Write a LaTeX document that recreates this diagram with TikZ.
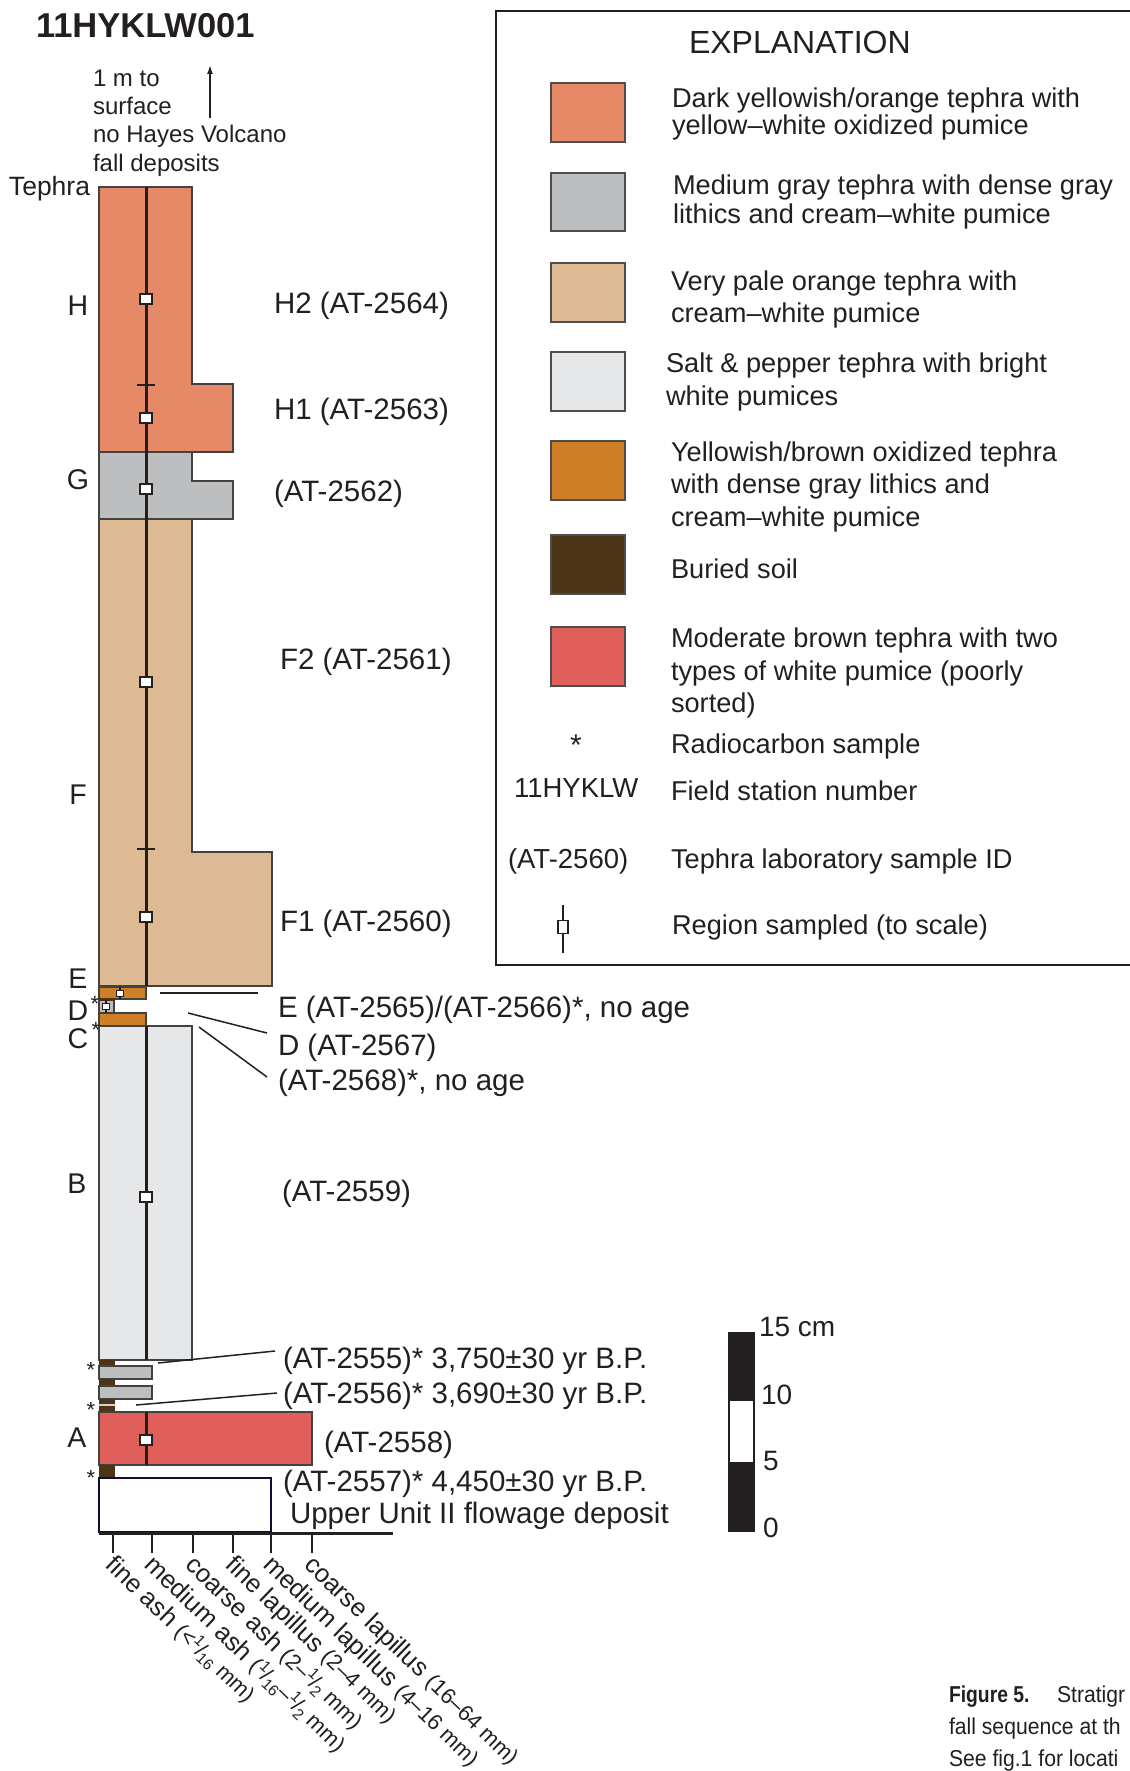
\documentclass[tikz,border=0pt]{standalone}
\usepackage{fontspec}
\setmainfont{Liberation Sans}
\usetikzlibrary{arrows.meta}
\definecolor{cH}{HTML}{E68966}
\definecolor{cG}{HTML}{BCBEC0}
\definecolor{cF}{HTML}{DEBA94}
\definecolor{cB}{HTML}{E6E7E8}
\definecolor{cE}{HTML}{CF8027}
\definecolor{cS}{HTML}{4D3416}
\definecolor{cA}{HTML}{E05F5A}
\definecolor{ink}{HTML}{231F20}
\newcommand\fs[1]{\fontsize{#1}{#1}\selectfont}
\newcommand\myfr[2]{\raisebox{0.36em}{\fs{15.5}#1}\kern-0.5pt/\kern-0.5pt\raisebox{-0.18em}{\fs{15.5}#2}}
\begin{document}
\begin{tikzpicture}[x=1pt,y=-1pt,
  every node/.style={inner sep=0pt, outer sep=0pt, text=ink},
  strat/.style={draw=ink!85, line width=1.2},
  samp/.style={draw=ink, fill=white, line width=1.4, minimum width=12, minimum height=10},
  smsamp/.style={draw=ink, fill=white, line width=1, minimum width=7, minimum height=6},
  lab/.style={anchor=base west, font=\fs{29.5}},
  lett/.style={anchor=base, font=\fs{28.5}},
  astk/.style={anchor=base, font=\fs{22}},
  legt/.style={anchor=base west, font=\fs{27.2}},
  sw/.style={draw=ink!80, line width=1.2},
  lead/.style={draw=ink, line width=1.5},
  axl/.style={rotate=-44, anchor=north west, font=\fs{25.5}},
  note/.style={anchor=base west, font=\fs{24}},
  scl/.style={anchor=base west, font=\fs{28}},
]
\useasboundingbox (0,0) rectangle (1129,1771);

% ---------- title and note ----------
\node[anchor=base west, font=\bfseries\fs{34.5}] (title) at (36,38) {11HYKLW001};
\node[note] (n1) at (93,87) {1 m to};
\node[note] (n2) at (93,115) {surface};
\node[note] (n3) at (93,143) {no Hayes Volcano};
\node[note] (n4) at (93,172) {fall deposits};
\coordinate (arB) at (210,118);
\coordinate (arT) at (210,65);
\draw[ink, line width=1.5, -{Latex[length=9,width=6]}] (arB) -- (arT);
\node[anchor=base west, font=\fs{26.5}] (tephra) at (9,196) {Tephra};

% ---------- column ----------
\path[strat, fill=cH] (99,187) -- (192,187) -- (192,384) -- (233,384) -- (233,452) -- (99,452) -- cycle;
\path[strat, fill=cG] (99,452) -- (192,452) -- (192,481) -- (233,481) -- (233,519) -- (99,519) -- cycle;
\path[strat, fill=cF] (99,519) -- (192,519) -- (192,852) -- (272,852) -- (272,986) -- (99,986) -- cycle;
\path[strat, fill=cE] (99,987) rectangle (146,999);
\path[strat, fill=cG] (99,1000) rectangle (114,1013);
\fill[cS] (99,998) rectangle (115,1001);
\path[strat, fill=cE] (99,1013) rectangle (146,1026);
\fill[cS] (99,1024.5) rectangle (115,1027.5);
\path[strat, fill=cB] (99,1026) rectangle (192,1360);
\fill[cS] (99,1360) rectangle (115,1366);
\path[strat, fill=cG] (99,1366) rectangle (152,1379);
\fill[cS] (99,1379) rectangle (115,1386);
\path[strat, fill=cG] (99,1386) rectangle (152,1399);
\fill[cS] (99,1399) rectangle (115,1412);
\fill[cG!70] (99,1403.5) rectangle (115,1406);
\path[strat, fill=cA] (99,1412) rectangle (312,1465);
\fill[cS] (99,1465) rectangle (115,1478);
\path[draw=ink!70!blue!60!black, line width=1.2, fill=white] (99,1478) rectangle (271,1532);

% sample lines
\draw[ink, line width=3] (146,187) -- (146,986);
\draw[ink, line width=3] (146,1026) -- (146,1360);
\draw[ink, line width=3] (146,1412) -- (146,1465);
\draw[ink, line width=2.5] (137,385) -- (155,385);
\draw[ink, line width=2.5] (137,849) -- (155,849);
\node[samp] (sH2) at (146,299) {};
\node[samp] (sH1) at (146,418) {};
\node[samp] (sG) at (146,489) {};
\node[samp] (sF2) at (146,682) {};
\node[samp] (sF1) at (146,917) {};
\node[samp] (sB) at (146,1197) {};
\node[samp] (sA) at (146,1440) {};
\draw[ink, line width=1.2] (120,987) -- (120,999);
\node[smsamp] (sE) at (120,993) {};
\draw[ink, line width=1.2] (106,1000) -- (106,1013);
\node[smsamp] (sD) at (106,1006.5) {};

% axis
\draw[ink, line width=3] (99,1533) -- (393,1533);
\foreach \x in {113,152,193,233,271,312} \draw[ink, line width=2.5] (\x,1533) -- (\x,1553);
\node[axl] (x1) at (117,1553) {fine ash {\fs{22}(<\myfr{1}{16} mm)}};
\node[axl] (x2) at (156,1553) {medium ash {\fs{22}(\myfr{1}{16}–\myfr{1}{2} mm)}};
\node[axl] (x3) at (197,1553) {coarse ash {\fs{22}(2–\myfr{1}{2} mm)}};
\node[axl] (x4) at (237,1553) {fine lapillus {\fs{22}(2–4 mm)}};
\node[axl] (x5) at (275,1553) {medium lapillus {\fs{22}(4–16 mm)}};
\node[axl] (x6) at (316,1553) {coarse lapillus {\fs{22}(16–64 mm)}};

% left letters
\node[lett] (lH) at (78,315) {H};
\node[lett] (lG) at (78,489) {G};
\node[lett] (lF) at (78,804) {F};
\node[lett] (lE) at (78,988) {E};
\node[lett] (lD) at (78,1020) {D};
\node[lett] (lC) at (78,1048) {C};
\node[lett] (lB) at (77,1193) {B};
\node[lett] (lA) at (77,1447) {A};
\node[astk] (a1) at (95,1011) {*};
\node[astk] (a2) at (96,1037) {*};
\node[astk] (a3) at (91,1377) {*};
\node[astk] (a4) at (91,1417) {*};
\node[astk] (a5) at (91,1485) {*};

% right labels
\node[lab] (tH2) at (274,313) {H2 (AT-2564)};
\node[lab] (tH1) at (274,419) {H1 (AT-2563)};
\node[lab] (tG) at (274,501) {(AT-2562)};
\node[lab] (tF2) at (280,669) {F2 (AT-2561)};
\node[lab] (tF1) at (280,931) {F1 (AT-2560)};
\node[lab] (tE) at (278,1017) {E (AT-2565)/(AT-2566)*, no age};
\node[lab] (tD) at (278,1055) {D (AT-2567)};
\node[lab] (tC) at (278,1090) {(AT-2568)*, no age};
\node[lab] (tB) at (282,1201) {(AT-2559)};
\node[lab] (t55) at (283,1368) {(AT-2555)* 3,750±30 yr B.P.};
\node[lab] (t56) at (283,1403) {(AT-2556)* 3,690±30 yr B.P.};
\node[lab] (t58) at (324,1452) {(AT-2558)};
\node[lab] (t57) at (283,1491) {(AT-2557)* 4,450±30 yr B.P.};
\node[lab] (tU) at (290,1523) {Upper Unit II flowage deposit};

% leaders
\coordinate (eA) at (160,993);  \coordinate (eB) at (258,993);
\coordinate (dA) at (188,1013); \coordinate (dB) at (267,1033);
\coordinate (cA) at (199,1027); \coordinate (cB) at (267,1077);
\coordinate (pA) at (158,1363); \coordinate (pB) at (275,1351);
\coordinate (qA) at (136,1405); \coordinate (qB) at (277,1393);
\draw[lead] (eA) -- (eB);
\draw[lead] (dA) -- (dB);
\draw[lead] (cA) -- (cB);
\draw[lead] (pA) -- (pB);
\draw[lead] (qA) -- (qB);

% scale bar
\fill[ink] (728,1332) rectangle (755,1400);
\draw[ink, line width=1.5, fill=white] (729,1400) rectangle (754,1463);
\fill[ink] (728,1463) rectangle (755,1532);
\node[scl] (s15) at (759,1336) {15 cm};
\node[scl] (s10) at (761,1404) {10};
\node[scl] (s5) at (763,1470) {5};
\node[scl] (s0) at (763,1537) {0};

% legend
\draw[ink, line width=2.5] (1131,11) -- (496,11) -- (496,965) -- (1131,965);
\node[anchor=base west, font=\fs{32}] (expl) at (689,54) {EXPLANATION};
\path[sw, fill=cH] (551,83) rectangle (625,142);
\path[sw, fill=cG] (551,173) rectangle (625,231);
\path[sw, fill=cF] (551,263) rectangle (625,322);
\path[sw, fill=cB] (551,352) rectangle (625,411);
\path[sw, fill=cE] (551,441) rectangle (625,500);
\path[sw, fill=cS] (551,535) rectangle (625,594);
\path[sw, fill=cA] (551,627) rectangle (625,686);
\node[legt] (g1a) at (672,108) {Dark yellowish/orange tephra with};
\node[legt] (g1b) at (672,135) {yellow–white oxidized pumice};
\node[legt] (g2a) at (673,195) {Medium gray tephra with dense gray};
\node[legt] (g2b) at (673,224) {lithics and cream–white pumice};
\node[legt] (g3a) at (671,290) {Very pale orange tephra with};
\node[legt] (g3b) at (671,322) {cream–white pumice};
\node[legt] (g4a) at (666,372) {Salt \& pepper tephra with bright};
\node[legt] (g4b) at (666,405) {white pumices};
\node[legt] (g5a) at (671,461) {Yellowish/brown oxidized tephra};
\node[legt] (g5b) at (671,493) {with dense gray lithics and};
\node[legt] (g5c) at (671,526) {cream–white pumice};
\node[legt] (g6) at (671,578) {Buried soil};
\node[legt] (g7a) at (671,647) {Moderate brown tephra with two};
\node[legt] (g7b) at (671,680) {types of white pumice (poorly};
\node[legt] (g7c) at (671,712) {sorted)};
\node[anchor=base, font=\fs{30}] (g8s) at (576,755) {*};
\node[legt] (g8) at (671,753) {Radiocarbon sample};
\node[legt, font=\fs{27.5}] (g9s) at (514,797) {11HYKLW};
\node[legt] (g9) at (671,800) {Field station number};
\node[legt, font=\fs{27.5}] (g10s) at (508,868) {(AT-2560)};
\node[legt] (g10) at (671,868) {Tephra laboratory sample ID};
\draw[ink, line width=1.8] (563,905) -- (563,953);
\node[draw=ink, fill=white, line width=1.3, minimum width=10, minimum height=13] (g11s) at (563,927) {};
\node[legt] (g11) at (672,934) {Region sampled (to scale)};

% caption
\node[anchor=base west, font=\bfseries\fs{23}] (cap1) at (949,1702) {\scalebox{0.84}[1]{Figure 5.}};
\node[anchor=base west, font=\fs{23}] (cap1b) at (1057,1702) {\scalebox{0.92}[1]{Stratigr}};
\node[anchor=base west, font=\fs{23}] (cap2) at (949,1734) {\scalebox{0.92}[1]{fall sequence at th}};
\node[anchor=base west, font=\fs{23}] (cap3) at (949,1766) {\scalebox{0.92}[1]{See fig.1 for locati}};
\end{tikzpicture}
\end{document}
